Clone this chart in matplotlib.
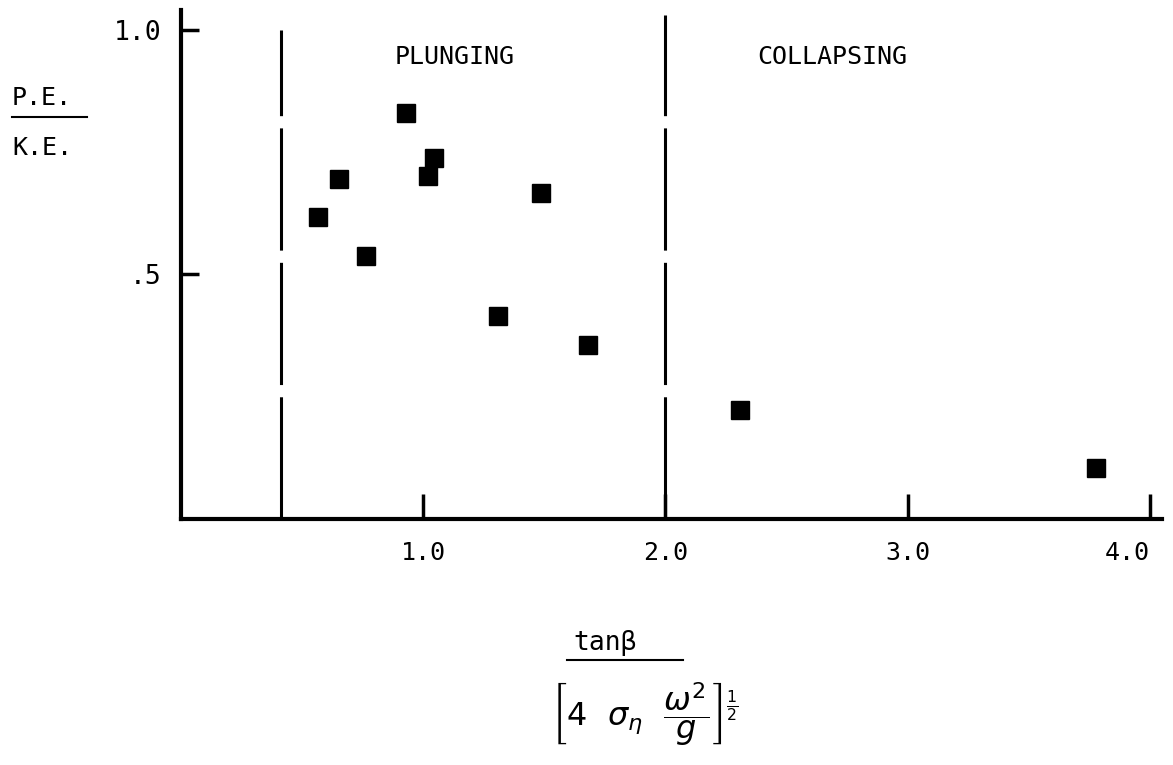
import matplotlib
matplotlib.use("Agg")
import matplotlib.pyplot as plt
from matplotlib.lines import Line2D

# wave steepness parameter vs. energy ratio
steepness = [0.566, 0.653, 0.764, 0.930, 1.021, 1.045, 1.310, 1.488, 1.682, 2.306, 3.777]
energy_ratio = [0.618, 0.695, 0.538, 0.830, 0.701, 0.738, 0.415, 0.667, 0.356, 0.223, 0.104]

# breaker type boundaries
boundaries = [0.413, 2.0]
boundary_tops = [1.0, 1.03]
regions = ["PLUNGING", "COLLAPSING"]
region_x = [1.13, 2.69]

xticks = [1.0, 2.0, 3.0, 4.0]
xtick_labels = ["1.0", "2.0", "3.0", "4.0"]
yticks = [0.5, 1.0]
ytick_labels = [".5", "1.0"]

plt.rcParams['font.family'] = ['DejaVu Sans Mono']
plt.rcParams['mathtext.fontset'] = 'dejavusans'

W, H = 1173, 765
fig = plt.figure(figsize=(W / 100, H / 100), dpi=100)
ax = fig.add_axes([181 / W, 1 - 519 / H, (1162 - 181) / W, 509 / H])

ax.plot(steepness, energy_ratio, linestyle="none", marker="s", ms=13,
        color="black", mec="black")

for b, top in zip(boundaries, boundary_tops):
    ax.plot([b, b], [0, top], color="black", lw=2.2,
            linestyle=(0, (40, 4)), solid_capstyle="butt")

for name, rx in zip(regions, region_x):
    ax.text(rx, 0.943, name, ha="center", va="center", fontsize=18)

ax.set_xlim(0, 4.05)
ax.set_ylim(0, 1.04)
for side in ("top", "right"):
    ax.spines[side].set_visible(False)
for side in ("left", "bottom"):
    ax.spines[side].set_linewidth(3)

ax.set_xticks(xticks)
ax.set_xticklabels(xtick_labels, fontsize=18)
ax.set_yticks(yticks)
ax.set_yticklabels(ytick_labels, fontsize=19)
ax.tick_params(axis="x", direction="in", length=18, width=2.5, pad=16)
ax.tick_params(axis="y", direction="in", length=13, width=2.5, pad=14)
ax.get_xticklabels()[-1].set_horizontalalignment("right")
ax.get_xticklabels()[-1].set_x(4.06)

# y-axis label: P.E. over K.E.
fig.text(12 / W, 1 - 98 / H, "P.E.", ha="left", va="center", fontsize=18)
fig.add_artist(Line2D([12 / W, 87 / W], [1 - 117 / H, 1 - 117 / H],
                      color="black", lw=1.5))
fig.text(12 / W, 1 - 148 / H, "K.E.", ha="left", va="center", fontsize=18)

# x-axis label: tan(beta) over bracketed term
fig.text(605 / W, 1 - 643 / H, "tanβ", ha="center", va="center", fontsize=19)
fig.add_artist(Line2D([567 / W, 683 / W], [1 - 660 / H, 1 - 660 / H],
                      color="black", lw=1.5))
fig.text(645 / W, 1 - 714 / H,
         r"$\left[4\ \ \sigma_{\eta}\ \ \dfrac{\omega^{2}}{g}\right]^{\frac{1}{2}}$",
         ha="center", va="center", fontsize=23)

fig.savefig("out.png", dpi=100)
